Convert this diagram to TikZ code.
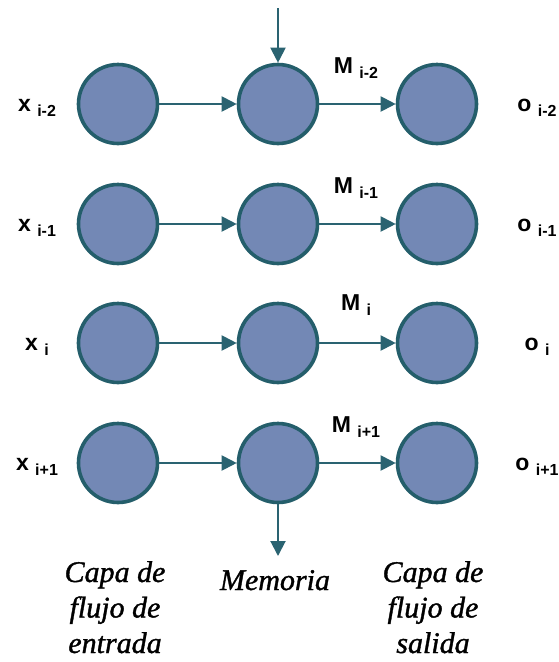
\documentclass[tikz,border=0pt]{standalone}
\usepackage{fontspec}
\setmainfont{Liberation Sans}
\newfontfamily\capfont[ItalicFeatures={FakeBold=1.2}]{Liberation Serif}
\usetikzlibrary{arrows.meta,shadows}
\definecolor{cellfill}{HTML}{7388B5}
\definecolor{cellline}{HTML}{245E6B}
\definecolor{flow}{HTML}{2A6371}
% label with a lowered index: base letter, space, smaller lowered index
\newcommand\lblsub[2]{#1\ \raisebox{-5pt}{\fontsize{16}{16}\selectfont #2}}
\begin{document}
\begin{tikzpicture}[x=1pt,y=-1pt,
  cell/.style={circle, minimum size=79pt, inner sep=0pt, fill=cellfill,
    draw=cellline, line width=3.6pt,
    drop shadow={shadow xshift=1.5pt, shadow yshift=-1.5pt, opacity=0.25, fill=black!60}},
  flowarrow/.style={draw=flow, line width=2pt, -{Triangle[length=15pt,width=15pt]}},
  lbl/.style={font=\fontsize{23}{23}\selectfont\bfseries, anchor=base, inner sep=0pt},
  caption/.style={font=\capfont\itshape\fontsize{30}{35.5}\selectfont, align=center,
    anchor=base, inner sep=0pt}]
\useasboundingbox (0,0) rectangle (559,662);

% rows of cells: input, memory, output
\foreach \r/\y in {1/104,2/224,3/343,4/463}{
  \node[cell] (in\r)  at (118,\y) {};
  \node[cell] (mem\r) at (278,\y) {};
  \node[cell] (out\r) at (437,\y) {};
  \draw[flowarrow] (in\r) -- (mem\r);
  \draw[flowarrow] (mem\r) -- (out\r);
}

% memory input from above and output below
\coordinate (memtop) at (278,8);
\coordinate (membot) at (278,556);
\draw[flowarrow] (memtop) -- (mem1);
\draw[flowarrow] (mem4.south) -- (membot);

% row labels
\node[lbl] (x1) at (37,111) {\lblsub{x}{i-2}};
\node[lbl] (x2) at (37,231) {\lblsub{x}{i-1}};
\node[lbl] (x3) at (37,350) {\lblsub{x}{i}};
\node[lbl] (x4) at (37,470) {\lblsub{x}{i+1}};

\node[lbl] (m1) at (356,73)  {\lblsub{M}{i-2}};
\node[lbl] (m2) at (356,193) {\lblsub{M}{i-1}};
\node[lbl] (m3) at (356,310) {\lblsub{M}{i}};
\node[lbl] (m4) at (356,432) {\lblsub{M}{i+1}};

\node[lbl] (o1) at (537,111) {\lblsub{o}{i-2}};
\node[lbl] (o2) at (537,231) {\lblsub{o}{i-1}};
\node[lbl] (o3) at (537,350) {\lblsub{o}{i}};
\node[lbl] (o4) at (537,470) {\lblsub{o}{i+1}};

% layer captions (base anchor sits on the last line)
\node[caption] (capin)  at (115,653) {Capa de\\flujo de\\entrada};
\node[caption] (capmem) at (275,590) {Memoria};
\node[caption] (capout) at (433,653) {Capa de\\flujo de\\salida};
\end{tikzpicture}
\end{document}
